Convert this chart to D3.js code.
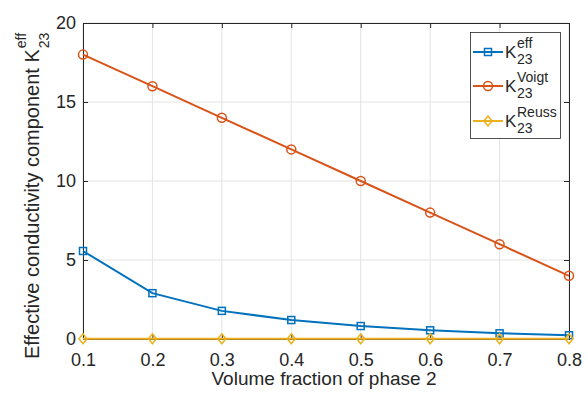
<!DOCTYPE html>
<html><head><meta charset="utf-8">
<script src="https://cdn.jsdelivr.net/npm/d3@7/dist/d3.min.js"></script>
<style>body{margin:0;background:#fff}svg{font-family:"Liberation Sans",Arial,sans-serif}</style>
</head><body>
<svg id="c" width="588" height="394"></svg>
<script>
const xValues = [0.1,0.2,0.3,0.4,0.5,0.6,0.7,0.8];
const kEff = [5.57,2.9,1.78,1.2,0.82,0.55,0.36,0.24];
const kVoigt = [18,16,14,12,10,8,6,4];
const kReuss = [0.01,0.01,0.01,0.01,0.01,0.01,0.01,0.01];
const xTicks = [0.1,0.2,0.3,0.4,0.5,0.6,0.7,0.8];
const yTicks = [0,5,10,15,20];
const seriesNames = ["eff","Voigt","Reuss"];
const colors = ["#0072BD","#D95319","#EDB120"];

const svg = d3.select("#c");
const L=83,R=569,T=23,B=339;
const x = d3.scaleLinear().domain([0.1,0.8]).range([L,R]);
const y = d3.scaleLinear().domain([0,20]).range([B,T]);

// grid
const g = svg.append("g");
g.selectAll(".gx").data(xTicks).join("line").attr("x1",d=>x(d)).attr("x2",d=>x(d)).attr("y1",T).attr("y2",B).attr("stroke","#e3e3e3").attr("stroke-width",1);
g.selectAll(".gy").data(yTicks).join("line").attr("x1",L).attr("x2",R).attr("y1",d=>y(d)).attr("y2",d=>y(d)).attr("stroke","#e3e3e3").attr("stroke-width",1);

// axes
const ax = d3.axisBottom(x).tickValues(xTicks).tickSize(-5).tickPadding(14).tickFormat(d3.format(".1f"));
const ay = d3.axisLeft(y).tickValues(yTicks).tickSize(-5).tickPadding(7);
const axT = d3.axisTop(x).tickValues(xTicks).tickSize(-5).tickFormat("");
const ayR = d3.axisRight(y).tickValues(yTicks).tickSize(-5).tickFormat("");
function style(sel){sel.selectAll("path,line").attr("stroke","#262626");sel.selectAll("text").attr("fill","#262626").style("font-size","18px");sel.select(".domain").attr("stroke-width",1);}
svg.append("g").attr("transform",`translate(0,${B})`).call(ax).call(style);
svg.append("g").attr("transform",`translate(${L},0)`).call(ay).call(style);
svg.append("g").attr("transform",`translate(0,${T})`).call(axT).call(style);
svg.append("g").attr("transform",`translate(${R},0)`).call(ayR).call(style);

// lines
const data=[kEff,kVoigt,kReuss];
const line=d3.line().x((d,i)=>x(xValues[i])).y(d=>y(d));
function marker(sel,k,c){
  if(k===0) sel.append("rect").attr("x",-3.5).attr("y",-3.5).attr("width",7).attr("height",7);
  else if(k===1) sel.append("circle").attr("r",4.5);
  else sel.append("path").attr("d","M0,-5L4,0L0,5L-4,0Z");
  sel.selectAll("*").attr("fill","none").attr("stroke",c).attr("stroke-width",1.5);
}
data.forEach((vals,k)=>{
  svg.append("path").datum(vals).attr("d",line).attr("fill","none").attr("stroke",colors[k]).attr("stroke-width",2);
  vals.forEach((v,i)=>{const m=svg.append("g").attr("transform",`translate(${x(xValues[i])},${y(v)})`);marker(m,k,colors[k]);});
});

// legend
const lg=svg.append("g");
lg.append("rect").attr("x",470.5).attr("y",32.5).attr("width",90).attr("height",106).attr("fill","#fff").attr("stroke","#262626").attr("stroke-width",0.8);
const legY=[52,86,121];
seriesNames.forEach((n,k)=>{
  const cy=legY[k];
  lg.append("line").attr("x1",473).attr("x2",503).attr("y1",cy).attr("y2",cy).attr("stroke",colors[k]).attr("stroke-width",2);
  marker(lg.append("g").attr("transform",`translate(488,${cy})`),k,colors[k]);
  lg.append("text").attr("x",505).attr("y",cy+6).attr("fill","#262626").style("font-size","17px").text("K");
  lg.append("text").attr("x",517).attr("y",cy-4).attr("fill","#262626").style("font-size","14px").text(n);
  lg.append("text").attr("x",517).attr("y",cy+12).attr("fill","#262626").style("font-size","14px").text("23");
});

// axis labels
svg.append("text").attr("x",324).attr("y",385).attr("text-anchor","middle").attr("fill","#262626").style("font-size","19px").text("Volume fraction of phase 2");
const yl=svg.append("g").attr("transform","translate(39,359) rotate(-90)");
const ylm=yl.append("text").attr("x",0).attr("y",0).attr("fill","#262626").style("font-size","20px").text("Effective conductivity component K");
const wlen=ylm.node().getComputedTextLength();
yl.append("text").attr("x",wlen+1).attr("y",-13).attr("fill","#262626").style("font-size","14px").text("eff");
yl.append("text").attr("x",wlen+1).attr("y",10).attr("fill","#262626").style("font-size","14px").text("23");
</script>
</body></html>
